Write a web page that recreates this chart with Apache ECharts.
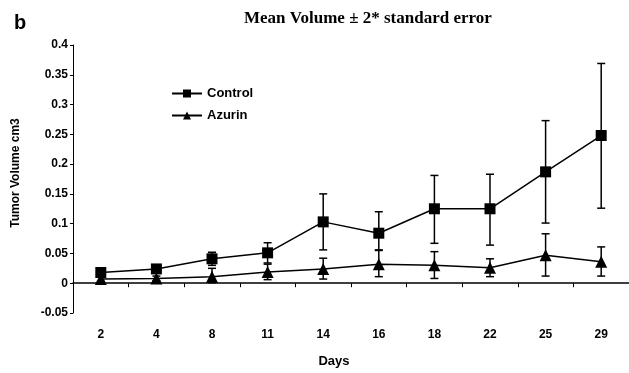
<!DOCTYPE html>
<html>
<head>
<meta charset="utf-8">
<script src="https://cdn.jsdelivr.net/npm/echarts@6/dist/echarts.min.js"></script>
<style>html,body{margin:0;padding:0;background:#fff}#c{width:629px;height:373px}</style>
</head>
<body>
<div id="c"></div>
<script>
const days = ['2', '4', '8', '11', '14', '16', '18', '22', '25', '29'];
const controlMean = [0.018, 0.024, 0.041, 0.051, 0.103, 0.084, 0.125, 0.125, 0.187, 0.248];
const controlLow  = [0.013, 0.019, 0.030, 0.034, 0.056, 0.056, 0.067, 0.064, 0.101, 0.126];
const controlHigh = [0.023, 0.029, 0.052, 0.068, 0.150, 0.120, 0.181, 0.183, 0.273, 0.369];
const azurinMean  = [0.007, 0.008, 0.011, 0.019, 0.024, 0.032, 0.030, 0.026, 0.047, 0.036];
const azurinLow   = [0.003, 0.004, 0.001, 0.006, 0.007, 0.011, 0.008, 0.011, 0.012, 0.012];
const azurinHigh  = [0.010, 0.012, 0.025, 0.032, 0.042, 0.055, 0.053, 0.041, 0.083, 0.061];
const yTicks = { min: -0.05, max: 0.4, interval: 0.05 };

function errData(low, high) { return days.map((d, i) => [i, low[i], high[i]]); }
function renderErr(params, api) {
  const x = api.value(0);
  const lo = api.coord([x, api.value(1)]);
  const hi = api.coord([x, api.value(2)]);
  const hw = 4;
  const st = { stroke: '#000', lineWidth: 1.5 };
  return { type: 'group', children: [
    { type: 'line', shape: { x1: hi[0], y1: hi[1], x2: lo[0], y2: lo[1] }, style: st },
    { type: 'line', shape: { x1: hi[0] - hw, y1: hi[1], x2: hi[0] + hw, y2: hi[1] }, style: st },
    { type: 'line', shape: { x1: lo[0] - hw, y1: lo[1], x2: lo[0] + hw, y2: lo[1] }, style: st }
  ]};
}

const chart = echarts.init(document.getElementById('c'), null, { renderer: 'canvas' });
const sans = 'Arial, "Liberation Sans", sans-serif';
chart.setOption({
  animation: false,
  backgroundColor: '#fff',
  title: [
    { text: 'b', left: 9, top: 8, textStyle: { fontFamily: sans, fontWeight: 'bold', fontSize: 20, color: '#000' } },
    { text: 'Mean Volume ± 2* standard error', left: 239, top: 5, textStyle: { fontFamily: '"Liberation Serif", "Times New Roman", serif', fontWeight: 'bold', fontSize: 17, color: '#000' } }
  ],
  legend: {
    orient: 'vertical', left: 171, top: 87, padding: 0, itemWidth: 30, itemHeight: 10, itemGap: 9,
    textStyle: { fontFamily: sans, fontWeight: 'bold', fontSize: 13, color: '#000' },
    data: ['Control', 'Azurin']
  },
  grid: { left: 73, right: -4, top: 45, bottom: 25, containLabel: false },
  xAxis: {
    type: 'category', data: days, boundaryGap: true,
    name: 'Days', nameLocation: 'middle', nameGap: 42,
    nameTextStyle: { fontFamily: sans, fontWeight: 'bold', fontSize: 13, color: '#000', padding: [0, 34, 0, 0] },
    axisLine: { onZero: true, lineStyle: { color: '#000', width: 1.5 } },
    axisTick: { show: true, length: 4, lineStyle: { color: '#000' } },
    axisLabel: { margin: 16, fontFamily: sans, fontWeight: 'bold', fontSize: 12, color: '#000' },
    splitLine: { show: false }
  },
  yAxis: {
    type: 'value', min: yTicks.min, max: yTicks.max, interval: yTicks.interval,
    name: 'Tumor Volume cm3', nameLocation: 'middle', nameGap: 51,
    nameTextStyle: { fontFamily: sans, fontWeight: 'bold', fontSize: 12, color: '#000', padding: [0, 0, 0, 12] },
    axisLine: { show: true, lineStyle: { color: '#000', width: 1 } },
    axisTick: { show: true, length: 3, lineStyle: { color: '#000' } },
    axisLabel: { margin: 5, fontFamily: sans, fontWeight: 'bold', fontSize: 12, color: '#000',
      formatter: v => String(Math.round(v * 100) / 100) },
    splitLine: { show: false }
  },
  series: [
    { type: 'custom', name: 'ctrlErr', renderItem: renderErr, data: errData(controlLow, controlHigh), z: 1, silent: true },
    { type: 'custom', name: 'azErr', renderItem: renderErr, data: errData(azurinLow, azurinHigh), z: 1, silent: true },
    { type: 'line', name: 'Control', data: controlMean, symbol: 'rect', symbolSize: 11,
      lineStyle: { color: '#000', width: 1.5 }, itemStyle: { color: '#000' }, z: 3 },
    { type: 'line', name: 'Azurin', data: azurinMean, symbol: 'triangle', symbolSize: 12,
      lineStyle: { color: '#000', width: 1.5 }, itemStyle: { color: '#000' }, z: 3 }
  ]
});
</script>
</body>
</html>
